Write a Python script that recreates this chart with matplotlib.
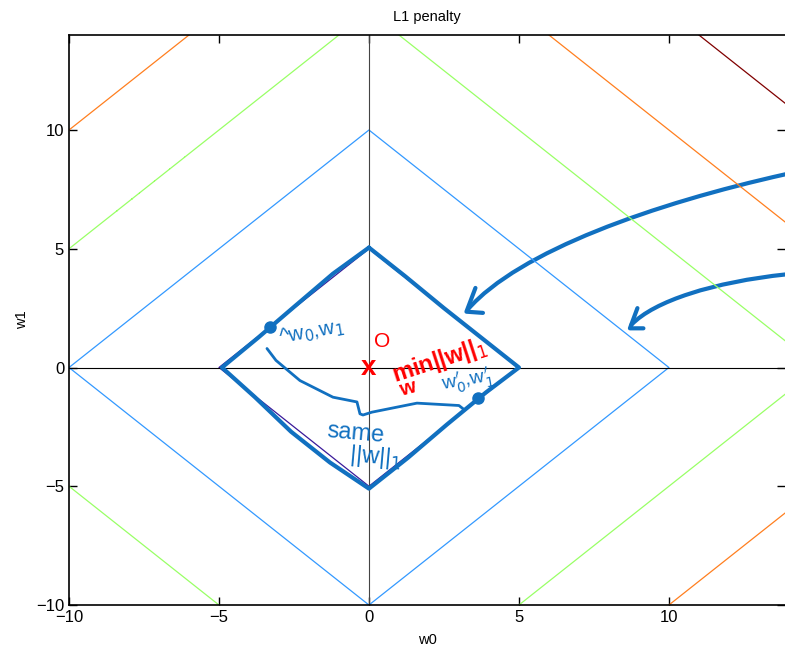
import matplotlib
matplotlib.use('Agg')
import matplotlib.pyplot as plt
from matplotlib.path import Path
from matplotlib.patches import PathPatch
import numpy as np

plt.rcParams['font.family'] = ['Liberation Sans', 'DejaVu Sans']

# contour levels of |w0|+|w1| and their colours
levels = [5, 10, 15, 20, 25]
level_colors = ['#3a1a9a', '#3399ff', '#99ff66', '#ff7f1f', '#800000']
ticks = [-10, -5, 0, 5, 10]

# hand drawn strokes (data coords)
pen = '#1170c0'
diamond_x = [0.0, 1.2, 2.5, 3.8, 5.0, 3.9, 2.6, 1.3, 0.0, -1.3, -2.6, -3.8, -4.9, -3.7, -2.5, -1.2, 0.0]
diamond_y = [5.05, 3.85, 2.5, 1.2, 0.0, -1.05, -2.4, -3.8, -5.1, -4.0, -2.7, -1.25, 0.0, 1.25, 2.55, 3.95, 5.05]
# bezier control points for the two long arrows
arrow1_pts = [(13.9, 8.14), (9.5, 6.9), (5.0, 4.9), (3.3, 2.45)]
arrow2_pts = [(13.9, 3.92), (11.5, 3.6), (9.5, 2.8), (8.75, 1.8)]
head1_x = [3.55, 3.25, 3.8]
head1_y = [3.35, 2.35, 2.3]
head2_x = [8.95, 8.7, 9.15]
head2_y = [2.5, 1.65, 1.65]
link_x = [-3.4, -3.1, -2.3, -1.2, -0.4, -0.3, -0.2, 0.1, 1.6, 3.0, 3.15]
link_y = [0.8, 0.3, -0.55, -1.25, -1.45, -1.95, -2.0, -1.88, -1.5, -1.6, -1.75]
dots_x = [-3.3, 3.65]
dots_y = [1.69, -1.3]

fig = plt.figure(figsize=(7.85, 6.47), dpi=100)
ax = fig.add_axes([0.0879, 0.0649, 0.9121, 0.881])

w0, w1 = np.meshgrid(np.linspace(-10, 15, 501), np.linspace(-10, 15, 501))
ax.contour(w0, w1, np.abs(w0) + np.abs(w1), levels=levels, colors=level_colors, linewidths=0.9)
ax.axhline(0, color='black', lw=0.8)
ax.axvline(0, color='#444444', lw=0.8)

ax.set_xlim(-10, 13.87)
ax.set_ylim(-10, 14.0)
ax.set_xticks(ticks)
ax.set_yticks(ticks)
ax.tick_params(direction='in', top=True, right=True, labelsize=12, length=6, width=1)
ax.spines['right'].set_visible(False)
for s in ['left', 'bottom', 'top']:
    ax.spines[s].set_linewidth(1.2)
ax.set_xlabel('w0', fontsize=10.5, labelpad=6)
ax.set_ylabel('w1', fontsize=10.5, labelpad=5)
ax.set_title('L1 penalty', fontsize=10.5, pad=10)

# annotations
ax.plot(diamond_x, diamond_y, color=pen, lw=3, solid_capstyle='round', solid_joinstyle='round')
for pts in [arrow1_pts, arrow2_pts]:
    p = Path(pts, [Path.MOVETO, Path.CURVE4, Path.CURVE4, Path.CURVE4])
    ax.add_patch(PathPatch(p, fill=False, edgecolor=pen, lw=3, capstyle='round'))
ax.plot(head1_x, head1_y, color=pen, lw=3, solid_capstyle='round', solid_joinstyle='round')
ax.plot(head2_x, head2_y, color=pen, lw=3, solid_capstyle='round', solid_joinstyle='round')
ax.plot(link_x, link_y, color=pen, lw=2, solid_capstyle='round', solid_joinstyle='round')
ax.plot(dots_x, dots_y, 'o', color=pen, ms=8)

ax.text(-3.05, 1.0, '^w$_0$,w$_1$', color=pen, fontsize=15, rotation=10)
ax.text(2.35, -0.95, "w$_0'$,w$_1'$", color=pen, fontsize=14, rotation=10)
ax.text(-1.45, -3.15, 'same', color=pen, fontsize=17, rotation=-5)
ax.text(-0.7, -4.15, '||w||$_1$', color=pen, fontsize=17, rotation=-5)

ax.text(0.45, 1.1, 'O', color='red', fontsize=15, ha='center', va='center')
ax.text(0.0, 0.0, 'x', color='red', fontsize=20, ha='center', va='center', fontweight='bold')
ax.text(0.65, -0.6, 'min||w||$_1$', color='red', fontsize=17, rotation=18, fontweight='bold')
ax.text(1.3, -0.9, 'w', color='red', fontsize=15, rotation=15, fontweight='bold',
        ha='center', va='center')

plt.savefig('out.png', dpi=100)
